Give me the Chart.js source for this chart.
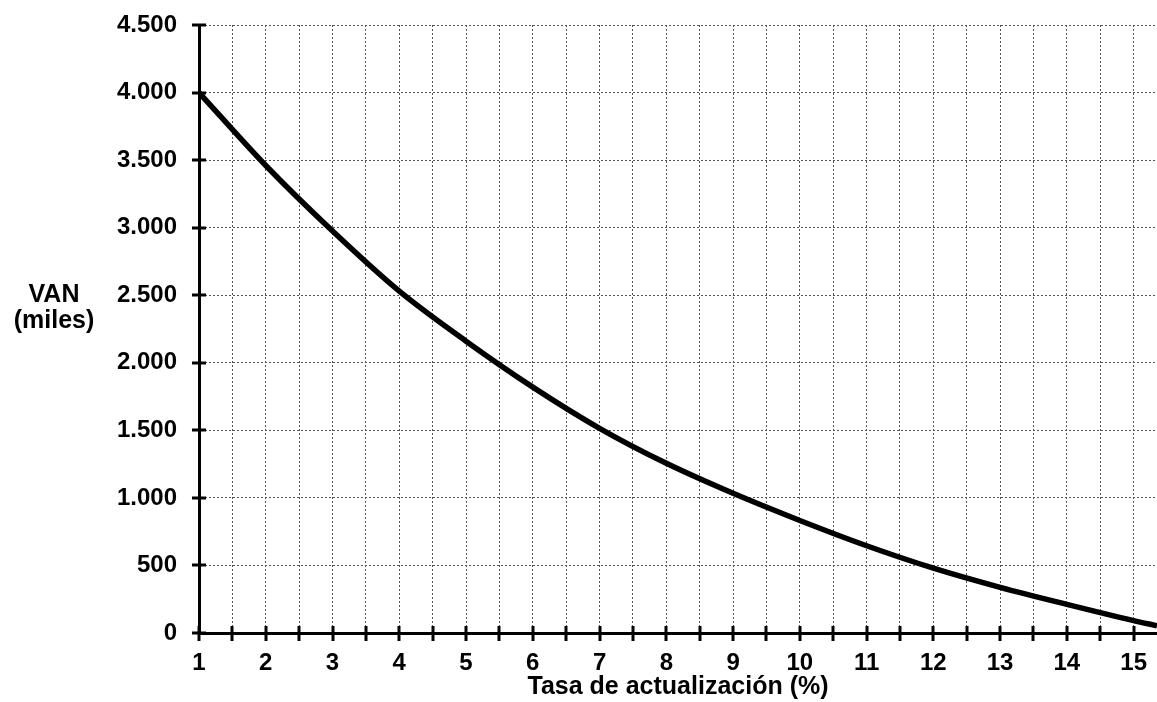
<!DOCTYPE html>
<html>
<head>
<meta charset="utf-8">
<script src="https://cdn.jsdelivr.net/npm/chart.js@4"></script>
<style>
  html, body { margin: 0; padding: 0; background: #fff; }
  #wrap { width: 1157px; height: 702px; }
</style>
</head>
<body>
<div id="wrap"><canvas id="vanChart" width="1157" height="702"></canvas></div>
<script>
// VAN vs tasa de actualización

const tasas = [1, 2, 3, 4, 5, 6, 7, 8, 9, 10, 11, 12, 13, 14, 15, 15.35];
const van = [4000, 3460, 2975, 2530, 2160, 1820, 1515, 1256, 1034, 833, 646, 480, 338, 212, 92, 54];
const yTitle = ["VAN", "(miles)"];
const xTitle = "Tasa de actualización (%)";

const FONT = "'Liberation Sans', Arial, sans-serif";

function fmtMiles(v) {
    return String(v).replace(/\B(?=(\d{3})+(?!\d))/g, ".");
}

// ticks that cross the axis lines, plus the horizontal y title
const axisExtras = {
    id: "axisExtras",
    afterDraw(chart) {
        const ctx = chart.ctx;
        const xs = chart.scales.x, ys = chart.scales.y;
        const area = chart.chartArea;
        ctx.save();
        ctx.strokeStyle = "#000";
        ctx.lineWidth = 3;
        xs.ticks.forEach(t => {
            const px = Math.round(xs.getPixelForValue(t.value));
            ctx.beginPath();
            ctx.moveTo(px, area.bottom - 7);
            ctx.lineTo(px, area.bottom + 8);
            ctx.stroke();
        });
        ys.ticks.forEach(t => {
            const py = Math.round(ys.getPixelForValue(t.value));
            ctx.beginPath();
            ctx.moveTo(area.left - 7, py);
            ctx.lineTo(area.left + 7, py);
            ctx.stroke();
        });
        ctx.fillStyle = "#000";
        ctx.font = "bold 25px " + FONT;
        ctx.textAlign = "center";
        ctx.textBaseline = "alphabetic";
        ctx.fillText(yTitle[0], 54, 302);
        ctx.fillText(yTitle[1], 54, 328);
        ctx.restore();
    }
};

const ctx = document.getElementById("vanChart").getContext("2d");
const chart = new Chart(ctx, {
    type: "line",
    data: {
        datasets: [{
            label: "VAN",
            data: tasas.map((t, i) => ({ x: t, y: van[i] })),
            borderColor: "#000",
            borderWidth: 5.5,
            pointRadius: 0,
            fill: false,
            cubicInterpolationMode: "monotone"
        }]
    },
    options: {
        responsive: false,
        animation: false,
        layout: { padding: { top: 25, right: 0, left: 0, bottom: 0 } },
        plugins: {
            legend: { display: false },
            tooltip: { enabled: false }
        },
        scales: {
            x: {
                type: "linear",
                min: 1,
                max: 15.35,
                afterFit: s => { s.height = 69; s.paddingLeft = 0; s.paddingRight = 0; },
                ticks: {
                    stepSize: 0.5,
                    includeBounds: false,
                    autoSkip: false,
                    maxRotation: 0,
                    padding: 16,
                    color: "#000",
                    font: { family: FONT, size: 24, weight: "bold" },
                    callback: v => (Number.isInteger(v) ? String(v) : "")
                },
                grid: { color: "#555", lineWidth: 1, drawTicks: false },
                border: { color: "#000", width: 3, dash: [2, 2] },
                title: {
                    display: true,
                    text: xTitle,
                    color: "#000",
                    font: { family: FONT, size: 25, weight: "bold" },
                    padding: { top: 0, bottom: 0 }
                }
            },
            y: {
                min: 0,
                max: 4500,
                afterFit: s => { s.width = 199; s.paddingTop = 0; s.paddingBottom = 0; },
                ticks: {
                    stepSize: 500,
                    padding: 22,
                    color: "#000",
                    font: { family: FONT, size: 24, weight: "bold" },
                    callback: v => fmtMiles(v)
                },
                grid: { color: "#555", lineWidth: 1, drawTicks: false },
                border: { color: "#000", width: 3, dash: [2, 2] }
            }
        }
    },
    plugins: [axisExtras]
});
</script>
</body>
</html>
